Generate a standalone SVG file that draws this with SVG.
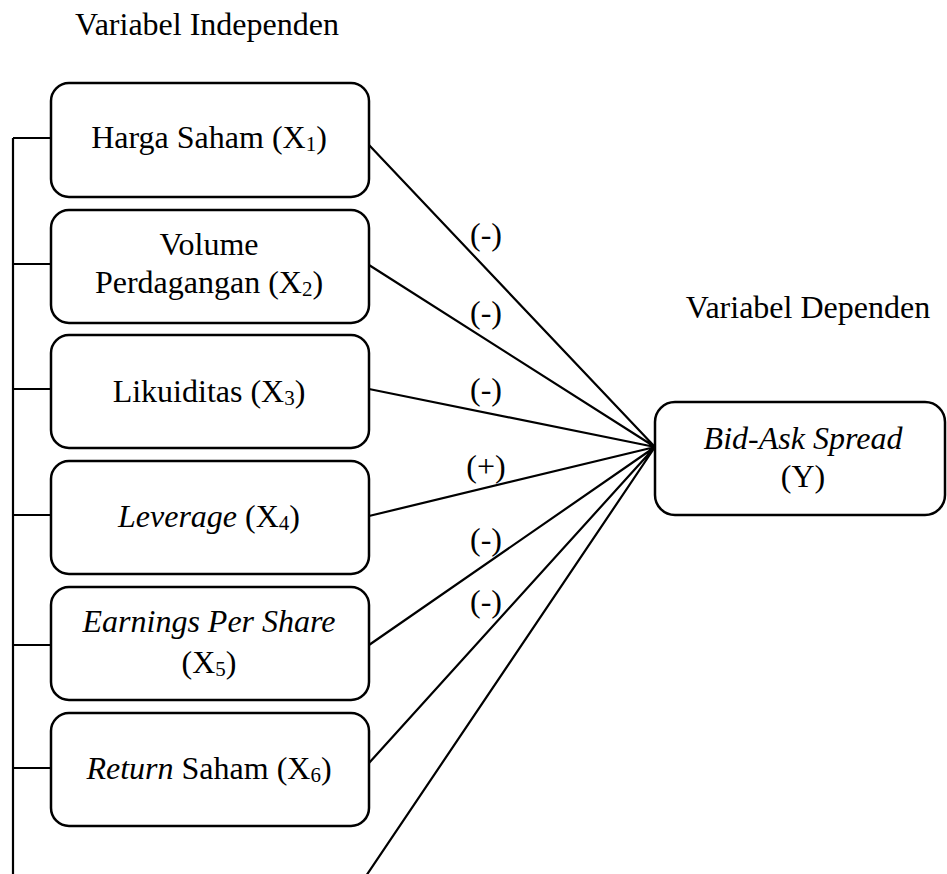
<svg xmlns="http://www.w3.org/2000/svg" width="947" height="874" viewBox="0 0 947 874">
<style>
text{font-family:'Liberation Serif','Times New Roman','DejaVu Serif',serif;font-size:32px;fill:#000}
.c{text-anchor:middle}
.i{font-style:italic}
.s{font-size:21px}
.box{fill:#fff;stroke:#000;stroke-width:2.5}
.ln{stroke:#000;stroke-width:2.2;fill:none}
</style>
<rect width="947" height="874" fill="#fff"/>
<text class="c" x="207" y="35">Variabel Independen</text>
<text class="c" x="808" y="318">Variabel Dependen</text>
<g id="connectors">
<path class="ln" d="M13 138V876M13 138H51M13 264H51M13 389H51M13 515H51M13 645H51M13 768H51"/>
<path class="ln" d="M369 145L655 447M369 265L655 447M369 389L655 447M369 516L655 447M369 645L655 447M369 763L655 447M366 876L655 447"/>
<text class="c" x="486" y="245">(-)</text>
<text class="c" x="486" y="323">(-)</text>
<text class="c" x="486" y="400">(-)</text>
<text class="c" x="486" y="477">(+)</text>
<text class="c" x="486" y="550">(-)</text>
<text class="c" x="486" y="612">(-)</text>
</g>
<g id="x1"><rect class="box" x="51" y="83" width="318" height="114" rx="18"/>
<text class="c" x="209" y="148">Harga Saham (X<tspan class="s" dy="3">1</tspan><tspan dy="-3">)</tspan></text></g>
<g id="x2"><rect class="box" x="51" y="210" width="318" height="113" rx="18"/>
<text class="c" x="209" y="255">Volume</text>
<text class="c" x="209" y="293">Perdagangan (X<tspan class="s" dy="3">2</tspan><tspan dy="-3">)</tspan></text></g>
<g id="x3"><rect class="box" x="51" y="335" width="318" height="113" rx="18"/>
<text class="c" x="209" y="402">Likuiditas (X<tspan class="s" dy="3">3</tspan><tspan dy="-3">)</tspan></text></g>
<g id="x4"><rect class="box" x="51" y="461" width="318" height="113" rx="18"/>
<text class="c" x="209" y="527"><tspan class="i">Leverage</tspan> (X<tspan class="s" dy="3">4</tspan><tspan dy="-3">)</tspan></text></g>
<g id="x5"><rect class="box" x="51" y="587" width="318" height="113" rx="18"/>
<text class="c i" x="209" y="632">Earnings Per Share</text>
<text class="c" x="209" y="673">(X<tspan class="s" dy="3">5</tspan><tspan dy="-3">)</tspan></text></g>
<g id="x6"><rect class="box" x="51" y="713" width="318" height="113" rx="18"/>
<text class="c" x="209" y="779"><tspan class="i">Return</tspan> Saham (X<tspan class="s" dy="3">6</tspan><tspan dy="-3">)</tspan></text></g>
<g id="y"><rect class="box" x="655" y="402" width="290" height="113" rx="20"/>
<text class="c i" x="803" y="449">Bid-Ask Spread</text>
<text class="c" x="803" y="487">(Y)</text></g>
</svg>
